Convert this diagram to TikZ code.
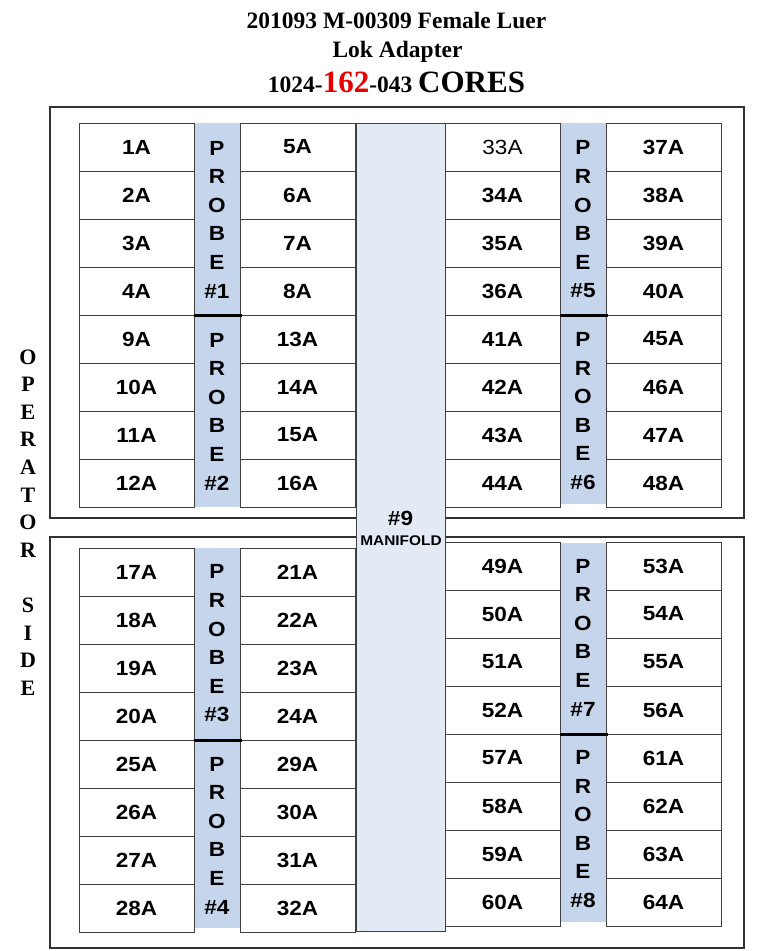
\documentclass[tikz,border=0pt]{standalone}
\usepackage{fontspec}
\setmainfont{Liberation Serif}
\setsansfont{Liberation Sans}
\newfontface\widebold[FakeStretch=1.1]{Liberation Sans Bold}
\newfontface\widereg[FakeStretch=1.1]{Liberation Sans}
\definecolor{probeblue}{RGB}{197,214,236}
\definecolor{manblue}{RGB}{227,234,245}
\definecolor{cellline}{RGB}{64,64,64}
\definecolor{boxline}{RGB}{50,50,50}
\definecolor{codered}{RGB}{230,0,0}
\newcommand\cellfnt{\widebold\fontsize{20.5}{24}\selectfont}
\newcommand\cellregfnt{\widereg\fontsize{20.5}{24}\selectfont}
\newcommand\probefnt{\widebold\fontsize{20.5}{28.6}\selectfont}
\newcommand\sidefnt{\rmfamily\bfseries\fontsize{22}{27.6}\selectfont}
\newcommand\ttlfnt{\rmfamily\bfseries\fontsize{23.5}{28}\selectfont}
\newcommand\bigfnt{\fontsize{31}{34}\selectfont}
\begin{document}
\begin{tikzpicture}[x=1pt,y=-1pt,
 outerbox/.style={draw=boxline,line width=1.2pt,minimum width=694pt,minimum height=411pt,inner sep=0pt},
 probecol/.style={fill=probeblue,draw=none,minimum width=46pt,inner sep=0pt},
 cell/.style={draw=cellline,line width=1pt,minimum width=115pt,minimum height=48pt,inner sep=0pt,font=\cellfnt},
 probelabel/.style={align=center,inner sep=0pt,font=\probefnt},
 divider/.style={draw=black,line width=2.6pt},
 manifoldbox/.style={draw=cellline,fill=manblue,line width=1pt,minimum width=89pt,minimum height=808pt,inner sep=0pt},
 titletext/.style={anchor=base,inner sep=0pt,font=\ttlfnt}]
\useasboundingbox (0,0) rectangle (779,951);

% titles
\node[titletext] (t1) at (396.5,28.5) {201093 M-00309 Female Luer};
\node[titletext] (t2) at (397.5,57) {Lok Adapter};
\node[titletext] (t3) at (396.5,92) {1024-{\bigfnt\color{codered}162}-043 {\bigfnt CORES}};

% outer boxes
\node[outerbox] (topbox) at (397,312.5) {};
\node[outerbox] (botbox) at (397,742.5) {};

% probe columns
\node[probecol,minimum height=384pt] (pc1) at (217,315) {};
\node[probecol,minimum height=381pt] (pc2) at (583,313.5) {};
\node[probecol,minimum height=380pt] (pc3) at (217,738) {};
\node[probecol,minimum height=379pt] (pc4) at (583,732.5) {};

% cells top-left
\foreach \p/\q [count=\k from 0] in {1/5,2/6,3/7,4/8,9/13,10/14,11/15,12/16}{
  \node[cell] (c\p) at (136.5,{147+48*\k}) {\p A};
  \node[cell] (c\q) at (297.5,{147+48*\k}) {\q A};
}
% cells bottom-left
\foreach \p/\q [count=\k from 0] in {17/21,18/22,19/23,20/24,25/29,26/30,27/31,28/32}{
  \node[cell] (c\p) at (136.5,{572+48*\k}) {\p A};
  \node[cell] (c\q) at (297.5,{572+48*\k}) {\q A};
}
% cells top-right
\node[cell,font=\cellregfnt] (c33) at (502.5,147) {33A};
\node[cell] (c37) at (663.5,147) {37A};
\foreach \p/\q [count=\k from 1] in {34/38,35/39,36/40,41/45,42/46,43/47,44/48}{
  \node[cell] (c\p) at (502.5,{147+48*\k}) {\p A};
  \node[cell] (c\q) at (663.5,{147+48*\k}) {\q A};
}
% cells bottom-right
\foreach \p/\q [count=\k from 0] in {49/53,50/54,51/55,52/56,57/61,58/62,59/63,60/64}{
  \node[cell] (c\p) at (502.5,{566+48*\k}) {\p A};
  \node[cell] (c\q) at (663.5,{566+48*\k}) {\q A};
}

% dividers between probes
\draw[divider] ([xshift=-1pt]c4.south east) -- ([xshift=2pt]c8.south west);
\draw[divider] ([xshift=-1pt]c36.south east) -- ([xshift=2pt]c40.south west);
\draw[divider] ([xshift=-1pt]c20.south east) -- ([xshift=2pt]c24.south west);
\draw[divider] ([xshift=-1pt]c52.south east) -- ([xshift=2pt]c56.south west);

% probe labels
\node[probelabel] (pl1) at (217,219.5) {P\\R\\O\\B\\E\\\#1};
\node[probelabel] (pl2) at (217,411.5) {P\\R\\O\\B\\E\\\#2};
\node[probelabel] (pl3) at (217,643.5) {P\\R\\O\\B\\E\\\#3};
\node[probelabel] (pl4) at (217,835.5) {P\\R\\O\\B\\E\\\#4};
\node[probelabel] (pl5) at (583,219.5) {P\\R\\O\\B\\E\\\#5};
\node[probelabel] (pl6) at (583,411) {P\\R\\O\\B\\E\\\#6};
\node[probelabel] (pl7) at (583,637.5) {P\\R\\O\\B\\E\\\#7};
\node[probelabel] (pl8) at (583,829) {P\\R\\O\\B\\E\\\#8};

% manifold
\node[manifoldbox] (man) at (400.5,527) {};
\node[inner sep=0pt,font=\cellfnt] (m9) at (400.5,518) {\#9};
\node[inner sep=0pt,font=\widebold\fontsize{14}{16}\selectfont] (mlab) at (401,541) {MANIFOLD};

% operator side
\node[align=center,inner sep=0pt,font=\sidefnt] (side) at (28,522.5) {O\\P\\E\\R\\A\\T\\O\\R\\\mbox{}\\S\\I\\D\\E};
\end{tikzpicture}
\end{document}
